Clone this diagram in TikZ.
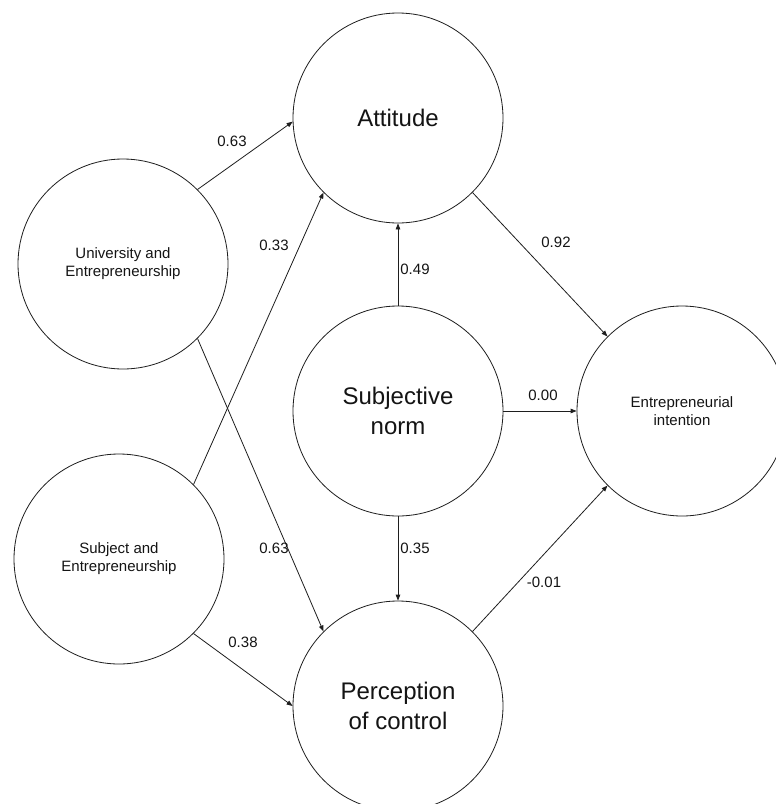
\documentclass[tikz,border=0pt]{standalone}
\usepackage{fontspec}
\setmainfont{Liberation Sans}
\usetikzlibrary{arrows.meta}
\definecolor{stroke}{HTML}{1E1E1E}
\definecolor{txt}{HTML}{141414}
\newcommand{\bigtxt}{\fontsize{24}{30}\selectfont}
\newcommand{\smalltxt}{\fontsize{15}{18}\selectfont}

\begin{document}
\begin{tikzpicture}[x=1pt,y=-1pt,font=\smalltxt,text=txt,
  var/.style={circle,draw=stroke,line width=0.8pt,minimum size=210pt,inner sep=0,align=center},
  link/.style={draw=stroke,line width=0.8pt,-{Triangle[length=6pt,width=4.5pt]}},
  coef/.style={inner sep=0}]
\useasboundingbox (0,0) rectangle (776,804);
\clip (0,0) rectangle (776,804);
\fill[white] (0,0) rectangle (776,804);
% latent variables
\node[var,font=\bigtxt] (att) at (398,118) {Attitude};
\node[var] (uni) at (123,264) {University and\\Entrepreneurship};
\node[var] (subj) at (119,559) {Subject and\\Entrepreneurship};
\node[var,font=\bigtxt] (sn) at (398,411) {Subjective\\norm};
\node[var] (ei) at (682,411) {Entrepreneurial\\intention};
\node[var,font=\bigtxt] (perc) at (398,706) {Perception\\of control};
% paths
\draw[link] (uni.45) -- (att.182);
\draw[link] (subj.45) -- (att.225);
\draw[link] (uni.-45) -- (perc.135);
\draw[link] (subj.-45) -- (perc.west);
\draw[link] (sn.north) -- (att.south);
\draw[link] (sn.south) -- (perc.north);
\draw[link] (att.-45) -- (ei.135);
\draw[link] (sn.east) -- (ei.west);
\draw[link] (perc.45) -- (ei.225);
% coefficients
\node[coef] (c-ua) at (232,141) {0.63};
\node[coef] (c-sa) at (274,245) {0.33};
\node[coef] (c-up) at (274,548) {0.63};
\node[coef] (c-sp) at (243,642) {0.38};
\node[coef] (c-na) at (415,269) {0.49};
\node[coef] (c-np) at (415,548) {0.35};
\node[coef] (c-ae) at (556,242) {0.92};
\node[coef] (c-ne) at (543,395) {0.00};
\node[coef] (c-pe) at (544,582) {-0.01};
\end{tikzpicture}
\end{document}
